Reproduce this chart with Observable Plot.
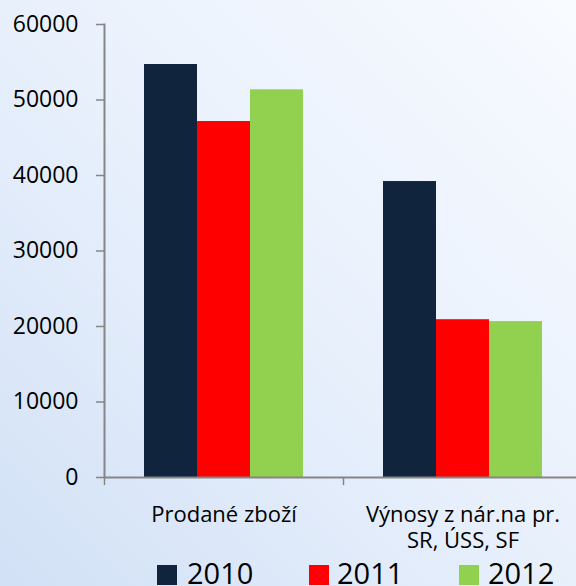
<!DOCTYPE html>
<html>
<head>
<meta charset="utf-8">
<script src="https://cdn.jsdelivr.net/npm/d3@7"></script>
<script src="https://cdn.jsdelivr.net/npm/@observablehq/plot@0.6"></script>
<style>
  html, body { margin: 0; padding: 0; width: 576px; height: 586px; overflow: hidden; }
  body { background: linear-gradient(45deg, #d2e1f6 0%, #e8f0fc 50%, #f8fbff 100%); font-family: "Open Sans", sans-serif; }
  #legend { position: relative; width: 576px; height: 31px; }
  .sw { position: absolute; width: 20px; height: 20px; top: 10px; }
  .lt { position: absolute; top: 3px; font-size: 29px; line-height: 29px; color: #000; }
</style>
</head>
<body>
<div id="chart"></div>
<div id="legend"></div>
<script>
const categories = ["Prodané zboží", "Výnosy z nár.na pr. SR, ÚSS, SF"];
const categoryLabels = ["Prodané zboží", "Výnosy z nár.na pr.\nSR, ÚSS, SF"];
const years = ["2010", "2011", "2012"];
const colors = ["#10243e", "#ff0000", "#92d050"];
const values2010 = [54700, 39200];
const values2011 = [47150, 20900];
const values2012 = [51350, 20650];
const yTicks = [0, 10000, 20000, 30000, 40000, 50000, 60000];

const seriesValues = [values2010, values2011, values2012];
const rows = [];
categories.forEach((c, i) => years.forEach((y, j) => rows.push({cat: c, year: y, value: seriesValues[j][i]})));

const lineShape = { draw(context, l) { context.moveTo(0, 0); context.lineTo(0, -l); } };

const chart = Plot.plot({
  width: 576,
  height: 555,
  marginLeft: 103,
  marginRight: -6,
  marginTop: 24,
  marginBottom: 78,
  style: { background: "transparent", fontFamily: "Open Sans, sans-serif", color: "#000" },
  fx: { domain: categories, padding: 0, axis: null },
  x: { domain: years, paddingInner: 0, paddingOuter: 0.75, axis: null },
  y: { domain: [0, 60000], axis: null },
  color: { domain: years, range: colors },
  marks: [
    Plot.barY(rows, { fx: "cat", x: "year", y: "value", fill: "year" }),
    Plot.ruleY([0], { stroke: "#868686", strokeWidth: 2 }),
    Plot.frame({ anchor: "left", facetAnchor: "left", stroke: "#868686", strokeWidth: 2 }),
    Plot.axisY({ ticks: yTicks, tickFormat: d => String(d), tickSize: 8, tickPadding: 18, fontSize: 23, fill: "#000", stroke: "#868686", strokeWidth: 1.5, label: null, facetAnchor: "left" }),
    Plot.vector([null], { frameAnchor: "bottom-left", length: 7, rotate: 180, anchor: "start", shape: lineShape, stroke: "#868686", strokeWidth: 1.5 }),
    Plot.text(categories, { fx: d => d, text: (d, i) => categoryLabels[i], frameAnchor: "bottom", lineAnchor: "top", dy: 26, fontSize: 22, lineHeight: 26 / 22, fill: "#000" })
  ]
});
document.getElementById("chart").appendChild(chart);

const legend = document.getElementById("legend");
const swLeft = [157, 309, 459];
const txLeft = [187, 337, 488];
years.forEach((y, i) => {
  const s = document.createElement("div");
  s.className = "sw"; s.style.left = swLeft[i] + "px"; s.style.background = colors[i];
  legend.appendChild(s);
  const t = document.createElement("div");
  t.className = "lt"; t.style.left = txLeft[i] + "px"; t.textContent = y;
  legend.appendChild(t);
});
</script>
</body>
</html>
